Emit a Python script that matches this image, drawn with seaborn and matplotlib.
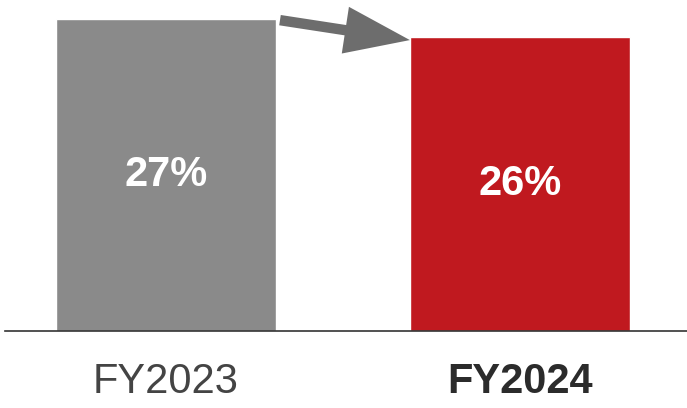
import matplotlib
matplotlib.use("Agg")
import matplotlib.pyplot as plt
import seaborn as sns
import pandas as pd

years = ["FY2023", "FY2024"]
shares = [27.4, 25.8]
bar_colors = ["#8a8a8a", "#c0191f"]

df = pd.DataFrame({"year": years, "share": shares})

sns.set_style("white")
plt.rcParams["font.family"] = ["Liberation Sans", "DejaVu Sans"]

fig = plt.figure(figsize=(6.87, 4.08), dpi=100)
ax = fig.add_axes([5 / 687, 77 / 408, 682 / 687, 331 / 408])

sns.barplot(data=df, x="year", y="share", hue="year", palette=bar_colors,
            width=0.62, legend=False, ax=ax, saturation=1)

ax.set_xlim(-0.455, 1.472)
ax.set_ylim(0, 29.07)

for i, v in enumerate(shares):
    ax.text(i, v / 2, f"{v:.0f}%", ha="center", va="center", color="white",
            fontsize=30, fontweight="bold")

# arrow between the bar tops
ax.annotate("", xy=(0.689, 25.55), xytext=(0.322, 27.3),
            arrowprops=dict(arrowstyle="simple,head_length=4.7,head_width=3.4,tail_width=0.75",
                            mutation_scale=10, color="#6d6d6d", lw=0,
                            shrinkA=0, shrinkB=0))

for s in ["top", "right", "left"]:
    ax.spines[s].set_visible(False)
ax.spines["bottom"].set_color("#333333")
ax.spines["bottom"].set_linewidth(1.2)
ax.set_yticks([])
ax.set_xlabel("")
ax.set_ylabel("")
ax.tick_params(axis="x", length=0, pad=22, labelsize=30)
labels = ax.get_xticklabels()
labels[0].set_color("#444444")
labels[1].set_color("#2b2b2b")
labels[1].set_fontweight("bold")

fig.savefig("out.png", dpi=100)
